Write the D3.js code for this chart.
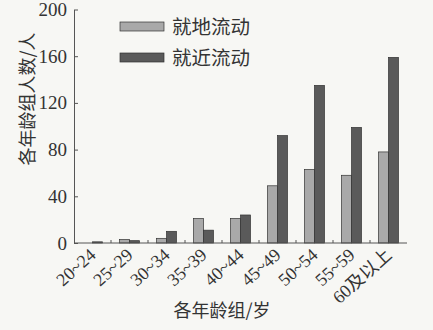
<!DOCTYPE html>
<html>
<head>
<meta charset="utf-8">
<script src="https://cdn.jsdelivr.net/npm/d3@7/dist/d3.min.js"></script>
<style>
  body { margin: 0; background: #f7f7f4; }
  svg { display: block; }
</style>
</head>
<body>
<svg id="chart"></svg>
<script>
// age groups and the two series (people per age group)
const ageGroups = ['20~24', '25~29', '30~34', '35~39', '40~44', '45~49', '50~54', '55~59', '60及以上'];
const seriesNames = ['就地流动', '就近流动'];
const localValues = [0, 3, 4, 21, 21, 49, 63, 58, 78];
const nearbyValues = [1, 2, 10, 11, 24, 92, 135, 99, 159];
const yTicks = [0, 40, 80, 120, 160, 200];

const width = 433;
const height = 330;
const margin = { top: 9.5, right: 26, bottom: 87, left: 74 };
const colors = ['#a9a9a9', '#5a5a5a'];
const serif = "'Liberation Serif', 'Noto Sans CJK SC', serif";
const cjk = "'Noto Sans CJK SC', sans-serif";

const svg = d3.select('#chart')
  .attr('width', width)
  .attr('height', height);

const x = d3.scaleBand()
  .domain(ageGroups)
  .range([margin.left, width - margin.right])
  .paddingInner(0)
  .paddingOuter(0);

const sub = d3.scaleBand()
  .domain(seriesNames)
  .range([x.bandwidth() * 0.23, x.bandwidth() * 0.77]);

const y = d3.scaleLinear()
  .domain([0, 200])
  .range([height - margin.bottom, margin.top]);

// bars
const rows = ageGroups.map((g, i) => ({ group: g, values: [localValues[i], nearbyValues[i]] }));

const groups = svg.append('g')
  .selectAll('g')
  .data(rows)
  .join('g')
  .attr('transform', d => `translate(${x(d.group)},0)`);

groups.selectAll('rect')
  .data(d => d.values.map((v, k) => ({ name: seriesNames[k], value: v, k })))
  .join('rect')
  .attr('x', d => sub(d.name))
  .attr('y', d => y(d.value))
  .attr('width', sub.bandwidth())
  .attr('height', d => y(0) - y(d.value))
  .attr('fill', d => colors[d.k])
  .attr('stroke', '#333')
  .attr('stroke-width', 0.7);

// y axis
const yAxis = svg.append('g')
  .attr('transform', `translate(${margin.left},0)`)
  .call(d3.axisLeft(y).tickValues(yTicks).tickSizeInner(-4).tickSizeOuter(0).tickPadding(7));
yAxis.select('.domain').attr('stroke', '#555');
yAxis.selectAll('line').attr('stroke', '#555');
yAxis.selectAll('text')
  .style('font-family', serif)
  .style('font-size', '19px')
  .attr('fill', '#333');

// x axis: ticks between groups, pointing up
const xAxis = svg.append('g')
  .attr('transform', `translate(0,${y(0)})`);
xAxis.append('path')
  .attr('d', `M${margin.left},0H${width - margin.right}`)
  .attr('stroke', '#555')
  .attr('fill', 'none');
xAxis.selectAll('line')
  .data(ageGroups.slice(1))
  .join('line')
  .attr('x1', d => x(d))
  .attr('x2', d => x(d))
  .attr('y1', 0)
  .attr('y2', -3)
  .attr('stroke', '#555');
xAxis.selectAll('text')
  .data(ageGroups)
  .join('text')
  .attr('transform', d => `translate(${x(d) + x.bandwidth() / 2 - 4},${4}) rotate(-42)`)
  .attr('text-anchor', 'end')
  .attr('dy', '0.7em')
  .style('font-family', serif)
  .style('font-size', '18px')
  .attr('fill', '#333')
  .text(d => d);

// axis titles
svg.append('text')
  .attr('x', 222)
  .attr('y', 317)
  .attr('text-anchor', 'middle')
  .style('font-family', cjk)
  .style('font-size', '18px')
  .attr('fill', '#333')
  .text('各年龄组/岁');

svg.append('text')
  .attr('transform', `translate(34,${99}) rotate(-90)`)
  .attr('text-anchor', 'middle')
  .style('font-family', cjk)
  .style('font-size', '18px')
  .attr('fill', '#333')
  .text('各年龄组人数/人');

// legend
const legend = svg.append('g')
  .selectAll('g')
  .data(seriesNames)
  .join('g')
  .attr('transform', (d, i) => `translate(120,${22 + i * 31})`);
legend.append('rect')
  .attr('width', 44)
  .attr('height', 9)
  .attr('fill', (d, i) => colors[i])
  .attr('stroke', '#333')
  .attr('stroke-width', 0.7);
legend.append('text')
  .attr('x', 52)
  .attr('y', 5)
  .attr('dy', '0.36em')
  .style('font-family', cjk)
  .style('font-size', '19.5px')
  .attr('fill', '#333')
  .text(d => d);
</script>
</body>
</html>
